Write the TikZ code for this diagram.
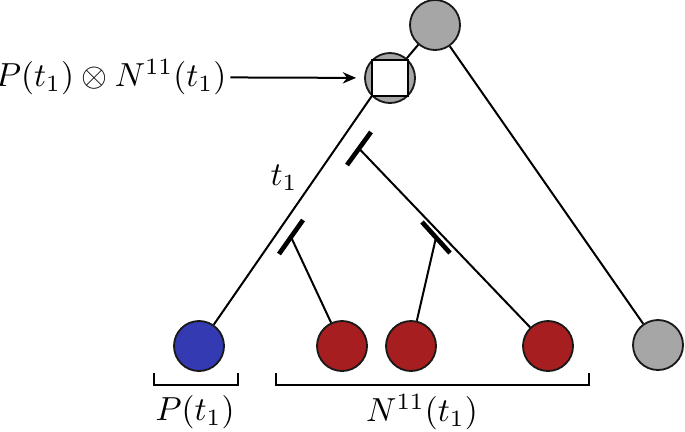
\documentclass[tikz,border=0pt]{standalone}
\usetikzlibrary{arrows.meta,calc}
\definecolor{nodegray}{RGB}{166,166,166}
\definecolor{leafblue}{RGB}{52,58,178}
\definecolor{leafred}{RGB}{166,30,32}
\begin{document}
\begin{tikzpicture}[x=0.3pt,y=-0.3pt,
  vert/.style={circle,draw=black!90,line width=0.55pt,minimum size=15pt,inner sep=0pt},
  edge/.style={line width=0.6pt},
  tick/.style={line width=1.4pt},
  brace/.style={line width=0.6pt},
  lbl/.style={inner sep=0pt}]
\useasboundingbox (0,0) rectangle (685,431);
% nodes
\node[vert,fill=nodegray] (top) at (435,25) {};
\node[vert,fill=nodegray] (mid) at (390,78) {};
\node[draw=black,line width=0.55pt,fill=white,minimum size=10.6pt,inner sep=0pt] (sq) at (mid) {};
\node[vert,fill=nodegray] (rleaf) at (658,345) {};
\node[vert,fill=leafblue] (blue) at (199,346) {};
\node[vert,fill=leafred] (r1) at (342,346) {};
\node[vert,fill=leafred] (r2) at (411,346) {};
\node[vert,fill=leafred] (r3) at (548,346) {};
% main edges
\draw[edge] (top) -- (mid);
\draw[edge] (top) -- (rleaf);
\draw[edge] (sq.south west) -- (blue);
% ticks
\coordinate (ta) at (359,148.5);
\coordinate (tb) at (436,237.5);
\coordinate (tc) at (291,237);
\draw[tick] ($(ta)+(-12,16.5)$) -- ($(ta)+(12,-16.5)$);
\draw[tick] ($(tb)+(-14,-15.5)$) -- ($(tb)+(14,15.5)$);
\draw[tick] ($(tc)+(-12,17)$) -- ($(tc)+(12,-17)$);
\draw[edge] (ta) -- (r3);
\draw[edge] (tb) -- (r2);
\draw[edge] (tc) -- (r1);
% labels
\node[lbl] (t1) at (284,178) {$t_1$};
\node[lbl,anchor=east] (comb) at (227,77) {$P(t_1)\otimes N^{11}(t_1)$};
\draw[edge,-{Stealth[length=4pt,width=3.4pt]},shorten <=1pt,shorten >=2.4pt] (comb) -- (mid);
% brackets
\draw[brace] (154,373) -- (154,385) -- (238,385) -- (238,373);
\draw[brace] (276,373) -- (276,385) -- (589,385) -- (589,373);
\node[lbl] (pl) at (195,412) {$P(t_1)$};
\node[lbl] (nl) at (422,412) {$N^{11}(t_1)$};
\end{tikzpicture}
\end{document}
